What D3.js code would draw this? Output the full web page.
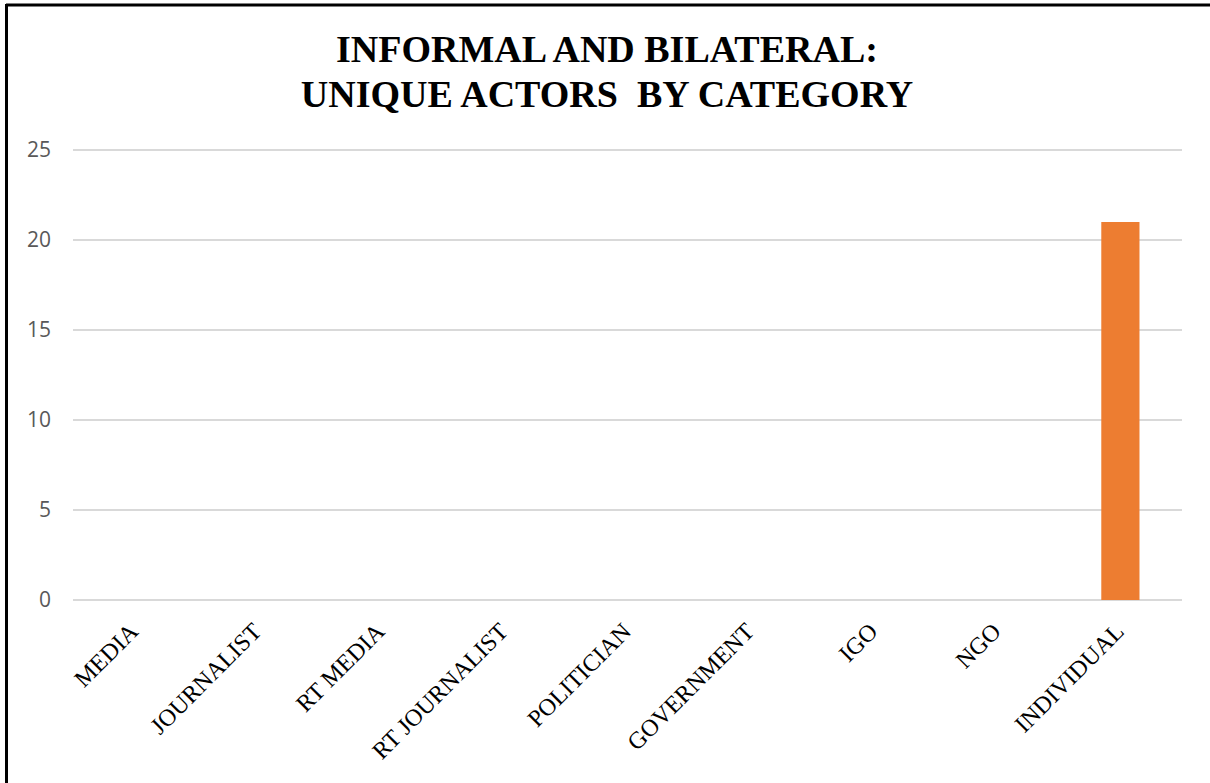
<!DOCTYPE html>
<html>
<head>
<meta charset="utf-8">
<script src="https://cdn.jsdelivr.net/npm/d3@7"></script>
<style>
  html, body { margin: 0; padding: 0; background: #fff; }
  svg { display: block; }
</style>
</head>
<body>
<svg id="chart" width="1210" height="783"></svg>
<script>
// Unique actors per category
const categories = ["MEDIA", "JOURNALIST", "RT MEDIA", "RT JOURNALIST", "POLITICIAN",
                    "GOVERNMENT", "IGO", "NGO", "INDIVIDUAL"];
const values = [0, 0, 0, 0, 0, 0, 0, 0, 21];
const yTicks = [0, 5, 10, 15, 20, 25];
const titleLines = ["INFORMAL AND BILATERAL:", "UNIQUE ACTORS  BY CATEGORY"];

const svg = d3.select("#chart");
const W = 1210, H = 783;
const margin = { left: 73, right: 28, top: 150, bottom: 183 };
const plotW = W - margin.left - margin.right;
const plotH = H - margin.top - margin.bottom;

// frame (top and left edges of the chart area)
svg.append("line").attr("x1", 6).attr("x2", W).attr("y1", 5).attr("y2", 5)
  .attr("stroke", "#000").attr("stroke-width", 3);
svg.append("line").attr("x1", 6.5).attr("x2", 6.5).attr("y1", 4).attr("y2", H)
  .attr("stroke", "#000").attr("stroke-width", 3);

// title
const title = svg.append("text")
  .attr("text-anchor", "middle")
  .attr("font-family", "'Liberation Serif', 'Times New Roman', serif")
  .attr("font-weight", "bold")
  .attr("font-size", 38)
  .attr("fill", "#000");
titleLines.forEach((t, i) => {
  title.append("tspan").attr("x", 607).attr("y", 62 + i * 45)
    .attr("xml:space", "preserve").text(t);
});

const g = svg.append("g").attr("transform", `translate(${margin.left},${margin.top})`);

const x = d3.scaleBand().domain(categories).range([0, plotW]).paddingInner(0.69).paddingOuter(0.345);
const y = d3.scaleLinear().domain([0, 25]).range([plotH, 0]);

// horizontal gridlines
g.append("g")
  .selectAll("line")
  .data(yTicks)
  .join("line")
  .attr("x1", 0).attr("x2", plotW)
  .attr("y1", d => y(d)).attr("y2", d => y(d))
  .attr("stroke", "#d9d9d9").attr("stroke-width", 2);

// y axis labels
const yAxis = g.append("g")
  .call(d3.axisLeft(y).tickValues(yTicks).tickSize(0).tickPadding(22));
yAxis.select(".domain").remove();
yAxis.selectAll("text")
  .attr("font-family", "'Open Sans', 'Liberation Sans', sans-serif")
  .attr("font-size", 21)
  .attr("fill", "#595959");

// bars
g.append("g")
  .selectAll("rect")
  .data(categories.map((c, i) => ({ c, v: values[i] })))
  .join("rect")
  .attr("x", d => x(d.c))
  .attr("width", x.bandwidth())
  .attr("y", d => y(d.v))
  .attr("height", d => y(0) - y(d.v))
  .attr("fill", "#ed7d31");

// category labels, rotated
const xAxis = g.append("g")
  .attr("transform", `translate(0,${plotH})`)
  .call(d3.axisBottom(x).tickSize(0).tickPadding(0));
xAxis.select(".domain").remove();
xAxis.selectAll("text")
  .attr("font-family", "'Liberation Serif', 'Times New Roman', serif")
  .attr("font-size", 24)
  .attr("fill", "#000")
  .attr("text-anchor", "end")
  .attr("dy", null)
  .attr("transform", "translate(5,33) rotate(-45)");
</script>
</body>
</html>
